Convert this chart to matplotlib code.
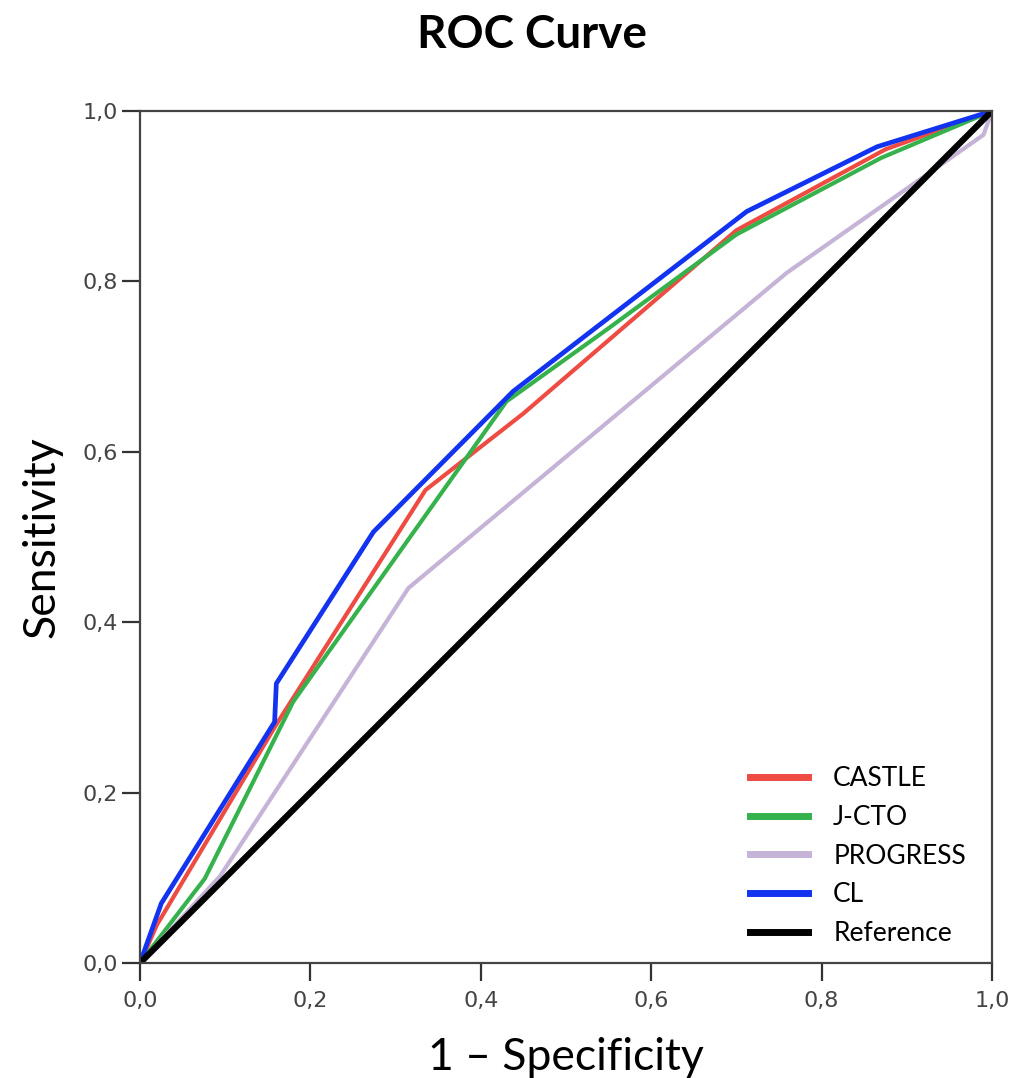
import matplotlib
matplotlib.use('Agg')
import matplotlib.pyplot as plt
from matplotlib.ticker import FuncFormatter

# ROC curves (x = 1 - specificity, y = sensitivity)
castle_x = [0.0, 0.02, 0.16, 0.335, 0.45, 0.70, 0.875, 1.0]
castle_y = [0.0, 0.045, 0.28, 0.555, 0.645, 0.86, 0.955, 1.0]

jcto_x = [0.0, 0.076, 0.18, 0.43, 0.55, 0.70, 0.87, 1.0]
jcto_y = [0.0, 0.099, 0.307, 0.659, 0.745, 0.855, 0.945, 1.0]

progress_x = [0.0, 0.094, 0.315, 0.759, 0.99, 1.0]
progress_y = [0.0, 0.102, 0.44, 0.81, 0.972, 1.0]

cl_x = [0.0, 0.025, 0.158, 0.160, 0.274, 0.438, 0.712, 0.865, 1.0]
cl_y = [0.0, 0.070, 0.283, 0.328, 0.506, 0.671, 0.882, 0.958, 1.0]

ref_x = [0.0, 1.0]
ref_y = [0.0, 1.0]

ticks = [0.0, 0.2, 0.4, 0.6, 0.8, 1.0]

fig = plt.figure(figsize=(10.24, 10.78), dpi=100)
ax = fig.add_axes([140/1024, 115/1078, 852/1024, 852/1078])

ax.plot(castle_x, castle_y, color='#ee4b43', lw=3, label='CASTLE')
ax.plot(jcto_x, jcto_y, color='#35b24c', lw=3, label='J-CTO')
ax.plot(progress_x, progress_y, color='#c5b3d8', lw=3, label='PROGRESS')
ax.plot(cl_x, cl_y, color='#1233f0', lw=3.4, label='CL')
ax.plot(ref_x, ref_y, color='black', lw=4.5, label='Reference')

ax.set_xlim(0, 1)
ax.set_ylim(0, 1)
ax.set_xticks(ticks)
ax.set_yticks(ticks)
comma = FuncFormatter(lambda v, p: f'{v:.1f}'.replace('.', ','))
ax.xaxis.set_major_formatter(comma)
ax.yaxis.set_major_formatter(comma)
ax.tick_params(direction='out', length=13, width=1.6, color='#333333',
               labelsize=16, labelcolor='#444444')
ax.tick_params(axis='x', pad=7)
ax.tick_params(axis='y', pad=3)
for s in ax.spines.values():
    s.set_color('#444444')
    s.set_linewidth(1.6)

ax.set_xlabel('1 – Specificity', fontsize=32, family='Lato', labelpad=19)
ax.set_ylabel('Sensitivity', fontsize=32, family='Lato', labelpad=14)

fig.text(532/1024, 1 - 48/1078, 'ROC Curve', fontsize=33, family='Lato',
         fontweight='bold', ha='center', va='baseline')

leg = ax.legend(loc='lower left', bbox_to_anchor=(0.716, 0.02), frameon=False,
                prop={'family': 'Lato', 'size': 19}, handlelength=2.2,
                handletextpad=0.95, labelspacing=0.52, borderpad=0,
                borderaxespad=0)
for line in leg.get_lines():
    line.set_linewidth(5)

fig.savefig('out.png', dpi=100)
